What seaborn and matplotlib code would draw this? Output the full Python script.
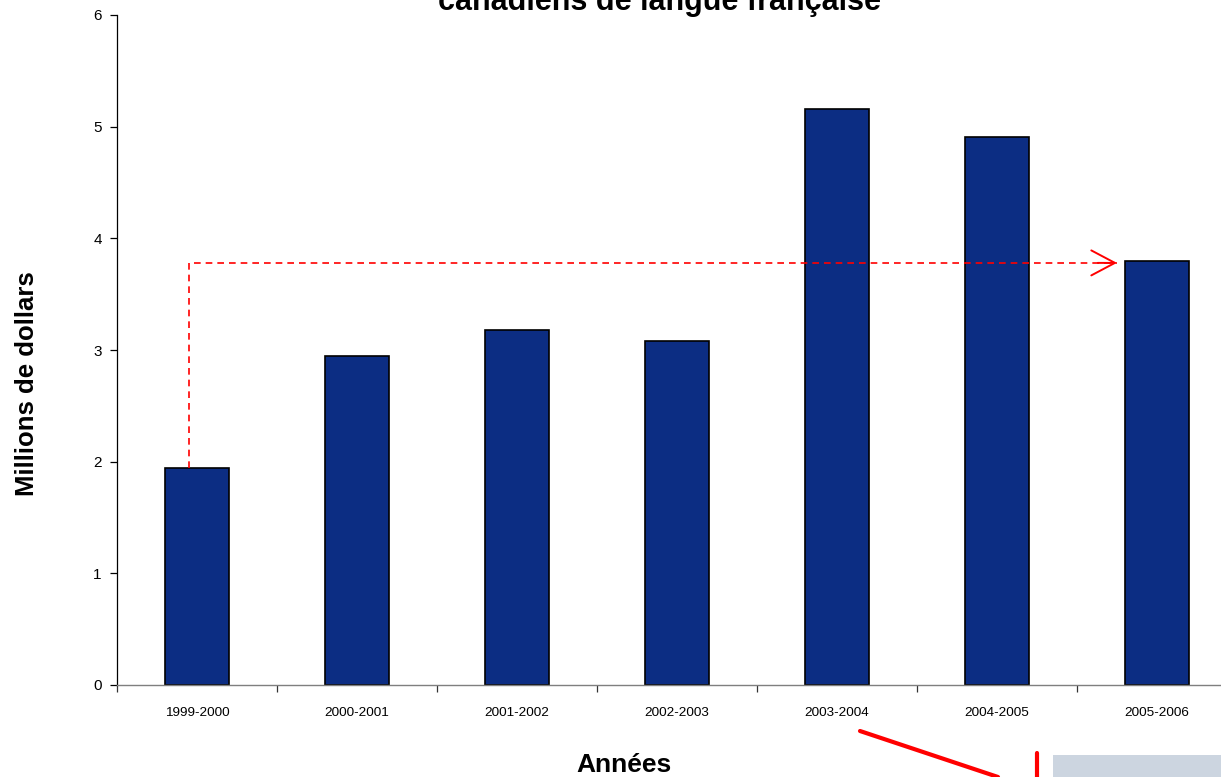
import matplotlib
matplotlib.use("Agg")
import matplotlib.pyplot as plt
import seaborn as sns
import pandas as pd
from matplotlib.patches import Rectangle
from matplotlib.lines import Line2D

# Annual amounts (millions of dollars)
annees = ["1999-2000", "2000-2001", "2001-2002", "2002-2003",
          "2003-2004", "2004-2005", "2005-2006"]
montants = [1.94, 2.95, 3.18, 3.08, 5.16, 4.91, 3.80]
y_ticks = [0, 1, 2, 3, 4, 5, 6]

sns.set_style("white")
plt.rcParams["font.family"] = ["Liberation Sans", "DejaVu Sans"]
plt.rcParams["text.color"] = "black"
plt.rcParams["xtick.color"] = "black"
plt.rcParams["ytick.color"] = "black"

df = pd.DataFrame({"annee": annees, "montant": montants})

fig = plt.figure(figsize=(12.21, 7.77), dpi=100)
ax = fig.add_axes([117 / 1221, 1 - 685 / 777, 1120 / 1221, 670 / 777])

sns.barplot(data=df, x="annee", y="montant", color="#0C2D83", width=0.4,
            edgecolor="black", linewidth=1.2, saturation=1, ax=ax)

ax.set_xlim(-0.5, 6.5)
ax.set_ylim(0, 6)
ax.set_yticks(y_ticks)
ax.set_yticklabels([str(t) for t in y_ticks], fontsize=11)
ax.tick_params(axis="y", length=5, width=0.9, direction="out", left=True, pad=6)
ax.tick_params(axis="x", length=0, labelsize=9.7, pad=16)
ax.set_xticks(range(len(annees)))
ax.set_xticklabels(annees)
# boundary ticks between categories
ax.set_xticks([i + 0.5 for i in range(-1, len(annees))], minor=True)
ax.tick_params(axis="x", which="minor", length=5, width=0.9, color="#333333", bottom=True)

for side in ["top", "right"]:
    ax.spines[side].set_visible(False)
ax.spines["left"].set_color("black")
ax.spines["left"].set_linewidth(0.9)
ax.spines["bottom"].set_color("#7f7f7f")
ax.spines["bottom"].set_linewidth(1.0)

ax.set_xlabel("")
ax.set_ylabel("")
fig.text(27 / 1221, 1 - 384 / 777, "Millions de dollars", rotation=90,
         ha="center", va="center", fontsize=18.5, fontweight="bold")
fig.text(624 / 1221, 1 - 765 / 777, "Années", ha="center", va="center",
         fontsize=19, fontweight="bold")
fig.text(660 / 1221, 1 - 10 / 777, "canadiens de langue française", ha="center",
         va="baseline", fontsize=22, fontweight="bold")

# dashed path from the first year's level to the last year's level
x0 = 0 - 0.4 / 2 + 0.15
x_tip = 6 - 0.25
y_line = montants[-1] - 0.02
ax.plot([x0, x0, x_tip], [montants[0], y_line, y_line], color="red",
        linestyle=(0, (4, 3)), linewidth=1.2)
ax.annotate("", xy=(x_tip, y_line), xytext=(x_tip - 0.12, y_line),
            arrowprops=dict(arrowstyle="->,head_length=1.7,head_width=0.9",
                            color="red", linewidth=1.4,
                            shrinkA=0, shrinkB=0))

# callout elements at the lower right
fig.patches.append(Rectangle((1053 / 1221, 0), 1 - 1053 / 1221, 22 / 777,
                             transform=fig.transFigure, facecolor="#CCD5E0",
                             edgecolor="none"))
fig.lines.append(Line2D([860 / 1221, 998 / 1221], [1 - 731 / 777, 0],
                        transform=fig.transFigure, color="red", linewidth=3))
fig.lines.append(Line2D([1037 / 1221, 1037 / 1221], [1 - 753 / 777, 0],
                        transform=fig.transFigure, color="red", linewidth=3))

fig.savefig("out.png", dpi=100)
